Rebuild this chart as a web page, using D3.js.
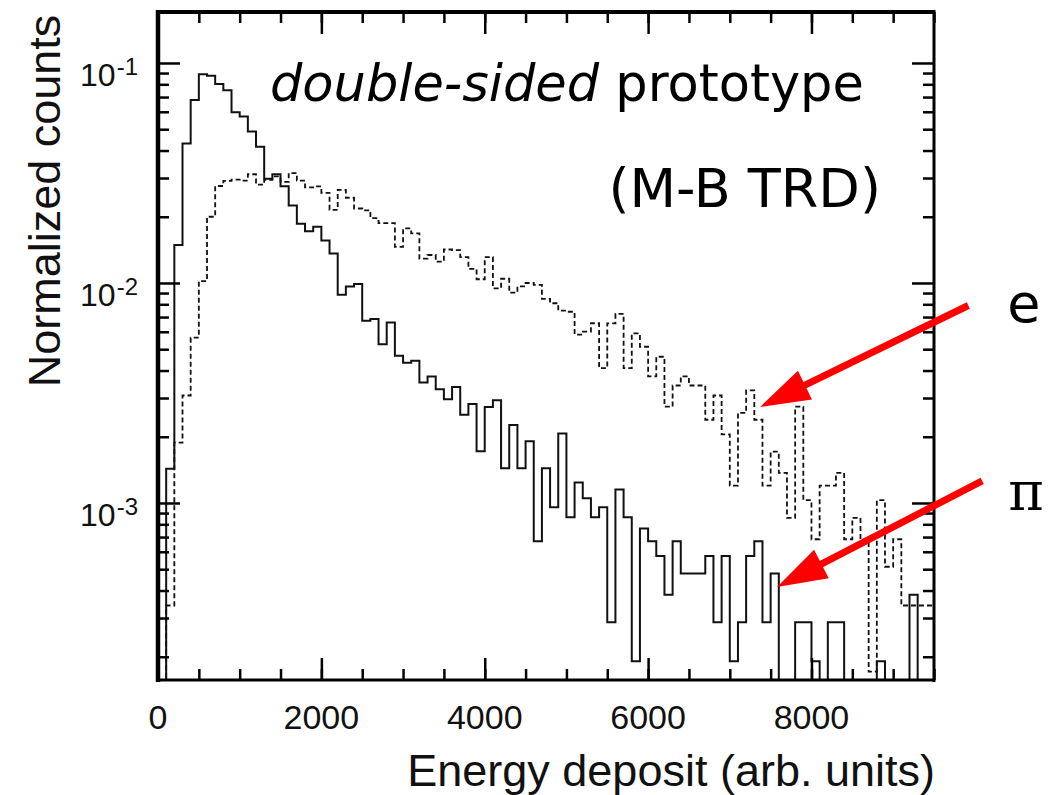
<!DOCTYPE html>
<html><head><meta charset="utf-8">
<script src="https://cdn.jsdelivr.net/npm/d3@7"></script>
<style>body{margin:0;background:#fff}svg{display:block}</style>
</head><body>
<svg id="c" width="1058" height="795"></svg>
<script>
// ---------------- data ----------------
const binWidth = 100;
const binLowEdges = d3.range(0, 9500, binWidth);   // 95 bins, 0 .. 9400

// pion (solid histogram), normalized counts per bin
const pionValues = [
  0, 0.00143, 0.0149, 0.0430, 0.0679, 0.0889, 0.0875, 0.0802, 0.0752, 0.0597,
  0.0571, 0.0488, 0.0416, 0.0298, 0.0312, 0.0275, 0.0225, 0.0186, 0.0172, 0.0180,
  0.0156, 0.0136, 0.00883, 0.00965, 0.00990, 0.00673, 0.00686, 0.00526, 0.00662, 0.00467,
  0.00434, 0.00443, 0.00353, 0.00376, 0.00329, 0.00296, 0.00337, 0.00252, 0.00282, 0.00172,
  0.00273, 0.00293, 0.00144, 0.00226, 0.00144, 0.00191, 0.000670, 0.00144, 0.000957, 0.00207,
  0.000861, 0.00124, 0.00105, 0.000861, 0.000957, 0.000287, 0.00115, 0.000861, 0.000191, 0.000766,
  0.000670, 0.000574, 0.000383, 0.000670, 0.000478, 0.000478, 0.000478, 0.000574, 0.000287, 0.000574,
  0.000191, 0.000287, 0.000574, 0.000670, 0.000287, 0.000478, 0, 0, 0.000287, 0.000287,
  0.000191, 0, 0.000287, 0.000287, 0, 0, 0, 0, 0.000191, 0,
  0, 0, 0.000383, 0, 0
];

// electron (dashed histogram), normalized counts per bin
const electronValues = [
  0, 0.000342, 0.00188, 0.00308, 0.00564, 0.0102, 0.0200, 0.0276, 0.0291, 0.0295,
  0.0292, 0.0312, 0.0280, 0.0294, 0.0305, 0.0288, 0.0316, 0.0292, 0.0272, 0.0275,
  0.0257, 0.0215, 0.0265, 0.0244, 0.0218, 0.0214, 0.0197, 0.0187, 0.0187, 0.0146,
  0.0177, 0.0168, 0.0129, 0.0134, 0.0125, 0.0142, 0.0141, 0.0131, 0.0116, 0.0104,
  0.0131, 0.00946, 0.01045, 0.00904, 0.00966, 0.0100, 0.00980, 0.00847, 0.00809, 0.00748,
  0.00740, 0.00583, 0.00601, 0.00656, 0.00410, 0.00655, 0.00724, 0.00410, 0.00590, 0.00513,
  0.00376, 0.00462, 0.00274, 0.00342, 0.00376, 0.00342, 0.00342, 0.00239, 0.00308, 0.00205,
  0.00120, 0.00257, 0.00325, 0.00239, 0.00120, 0.00171, 0.00137, 0.000855, 0.00274, 0.00103,
  0.000684, 0.00120, 0.00120, 0.00137, 0.000684, 0.000855, 0.000684, 0.000171, 0.00103, 0.000513,
  0.000684, 0.000342, 0.000342, 0.000342, 0.000342
];

const xMajorTicks = [0, 2000, 4000, 6000, 8000];
const xMinorTicks = d3.range(0, 9501, 500);
const yDecades = [1e-1, 1e-2, 1e-3];
const yDecadeExponents = ["-1", "-2", "-3"];
const yMinorTicks = [2,3,4,5,6,7,8,9].flatMap(m => [m*1e-4, m*1e-3, m*1e-2]);

const xTitle = "Energy deposit (arb. units)";
const yTitle = "Normalized counts";

// annotation arrows, in data coordinates (tail lies beyond the frame)
const arrowNotes = [
  {label: "e", tail: [9920, 0.0079], tip: [7370, 0.00273], text: [10600, 0.00665], font: "DejaVu Sans"},
  {label: "\u03C0", tail: [10090, 0.00126], tip: [7578, 0.000415], text: [10625, 0.00093], font: "DejaVu Serif"}
];

// ---------------- layout ----------------
const plot = {left: 158, right: 934, top: 12, bottom: 680};
const x = d3.scaleLinear().domain([0, 9500]).range([plot.left, plot.right]);
const y = d3.scaleLog().domain([1.568e-4, 0.1705]).range([plot.bottom, plot.top]);

const svg = d3.select("#c");

svg.append("defs").append("clipPath").attr("id", "clip")
  .append("rect").attr("x", plot.left).attr("y", plot.top)
  .attr("width", plot.right - plot.left).attr("height", plot.bottom - plot.top);

function yOf(v) { return v > y.domain()[0] ? y(v) : plot.bottom + 6; }

function histPoints(vals) {
  const pts = [[x(0), plot.bottom + 6]];
  vals.forEach((v, i) => pts.push([x(binLowEdges[i]), yOf(v)]));
  pts.push([x(binLowEdges[vals.length - 1] + binWidth), yOf(vals[vals.length - 1])]);
  pts.push([x(binLowEdges[vals.length - 1] + binWidth), plot.bottom + 6]);
  return pts;
}
const stepLine = d3.line().curve(d3.curveStepAfter);

const hg = svg.append("g").attr("clip-path", "url(#clip)");
hg.append("path").attr("d", stepLine(histPoints(electronValues)))
  .attr("fill", "none").attr("stroke", "#111").attr("stroke-width", 1.8)
  .attr("stroke-dasharray", "5,3");
hg.append("path").attr("d", stepLine(histPoints(pionValues)))
  .attr("fill", "none").attr("stroke", "#111").attr("stroke-width", 2);

// ---------------- axes ----------------
function styleAxis(g) {
  g.select(".domain").remove();
  g.selectAll(".tick line").attr("stroke", "#000").attr("stroke-width", 2.5);
  g.selectAll(".tick text").remove();
}
svg.append("g").attr("transform", `translate(0,${plot.bottom})`)
  .call(d3.axisBottom(x).tickValues(xMinorTicks).tickSize(-11)).call(styleAxis);
svg.append("g").attr("transform", `translate(0,${plot.bottom})`)
  .call(d3.axisBottom(x).tickValues(xMajorTicks).tickSize(-22)).call(styleAxis);
svg.append("g").attr("transform", `translate(0,${plot.top})`)
  .call(d3.axisTop(x).tickValues(xMinorTicks).tickSize(-11)).call(styleAxis);
svg.append("g").attr("transform", `translate(0,${plot.top})`)
  .call(d3.axisTop(x).tickValues(xMajorTicks).tickSize(-22)).call(styleAxis);
svg.append("g").attr("transform", `translate(${plot.left},0)`)
  .call(d3.axisLeft(y).tickValues(yMinorTicks).tickSize(-11)).call(styleAxis);
svg.append("g").attr("transform", `translate(${plot.left},0)`)
  .call(d3.axisLeft(y).tickValues(yDecades).tickSize(-22)).call(styleAxis);
svg.append("g").attr("transform", `translate(${plot.right},0)`)
  .call(d3.axisRight(y).tickValues(yMinorTicks).tickSize(-11)).call(styleAxis);
svg.append("g").attr("transform", `translate(${plot.right},0)`)
  .call(d3.axisRight(y).tickValues(yDecades).tickSize(-22)).call(styleAxis);

// frame
const frame = svg.append("g").attr("stroke", "#000").attr("fill", "none");
frame.append("line").attr("x1", plot.left).attr("x2", plot.left).attr("y1", plot.top - 2).attr("y2", plot.bottom + 2).attr("stroke-width", 4.5);
frame.append("line").attr("x1", plot.right).attr("x2", plot.right).attr("y1", plot.top - 2).attr("y2", plot.bottom + 2).attr("stroke-width", 3);
frame.append("line").attr("x1", plot.left).attr("x2", plot.right).attr("y1", plot.top).attr("y2", plot.top).attr("stroke-width", 4);
frame.append("line").attr("x1", plot.left).attr("x2", plot.right).attr("y1", plot.bottom).attr("y2", plot.bottom).attr("stroke-width", 3);

// tick labels
const labelFont = "'Liberation Sans', Arial, sans-serif";
svg.append("g").selectAll("text").data(xMajorTicks).join("text")
  .attr("x", d => x(d)).attr("y", 729).attr("text-anchor", "middle")
  .attr("font-family", labelFont).attr("font-size", 34).attr("fill", "#111")
  .text(d => d);

const yl = svg.append("g").selectAll("text").data(yDecades).join("text")
  .attr("x", 138).attr("y", d => y(d) + 23).attr("text-anchor", "end")
  .attr("font-family", labelFont).attr("font-size", 32).attr("fill", "#111");
yl.append("tspan").text("10");
yl.append("tspan").attr("dy", -11).attr("dx", 1).attr("font-size", 24).text((d, i) => yDecadeExponents[i]);

// axis titles
svg.append("text").attr("x", 935).attr("y", 786).attr("text-anchor", "end")
  .attr("font-family", labelFont).attr("font-size", 45).attr("fill", "#111").text(xTitle);
svg.append("text").attr("transform", "translate(60,201) rotate(-90)").attr("text-anchor", "middle")
  .attr("font-family", labelFont).attr("font-size", 45).attr("fill", "#111").text(yTitle);

// in-plot labels
const t1 = svg.append("text").attr("x", 270).attr("y", 101)
  .attr("font-family", "'DejaVu Sans', Verdana, sans-serif").attr("font-size", 51).attr("fill", "#000");
t1.append("tspan").attr("font-style", "italic").text("double-sided");
t1.append("tspan").text(" prototype");
svg.append("text").attr("x", 881).attr("y", 207).attr("text-anchor", "end")
  .attr("font-family", "'DejaVu Sans', Verdana, sans-serif").attr("font-size", 54).attr("fill", "#000")
  .text("(M-B TRD)");

// arrows
const ag = svg.append("g");
arrowNotes.forEach(a => {
  const tx = x(a.tail[0]), ty = y(a.tail[1]);
  const px = x(a.tip[0]), py = y(a.tip[1]);
  const dx = px - tx, dy = py - ty, L = Math.hypot(dx, dy);
  const ux = dx / L, uy = dy / L;
  const headLen = 50, headHalf = 16;
  const bx = px - ux * headLen, by = py - uy * headLen;
  ag.append("line").attr("x1", tx).attr("y1", ty).attr("x2", bx + ux * 4).attr("y2", by + uy * 4)
    .attr("stroke", "#ff0000").attr("stroke-width", 7);
  ag.append("polygon").attr("fill", "#ff0000")
    .attr("points", [[px, py], [bx - uy * headHalf, by + ux * headHalf], [bx + uy * headHalf, by - ux * headHalf]].map(p => p.join(",")).join(" "));
  svg.append("text").attr("x", x(a.text[0])).attr("y", y(a.text[1])).attr("text-anchor", "middle")
    .attr("font-family", a.font).attr("font-size", 54).attr("fill", "#000").text(a.label);
});
</script>
</body></html>
